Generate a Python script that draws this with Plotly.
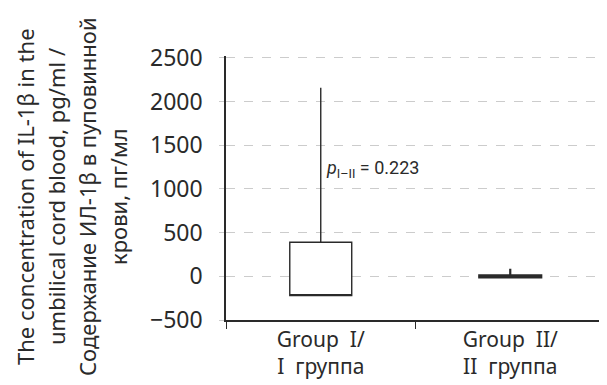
import plotly.graph_objects as go

categories = ["Group  I/<br>I  группа", "Group  II/<br>II  группа"]
q1 = [-221, -12]
median = [-221, 0]
q3 = [389, 12]
lower = [-221, -12]
upper = [2158, 85]
line_widths = [1.4, 2.2]
p_text = "<i>p</i><sub>I–II</sub> = 0.223"
p_y = 1222
y_ticks = [-500, 0, 500, 1000, 1500, 2000, 2500]
y_tick_text = ["−500", "0", "500", "1000", "1500", "2000", "2500"]
y_title_lines = [
    "The concentration of IL-1β in the",
    "umbilical cord blood, pg/ml /",
    "Содержание ИЛ-1β в пуповинной",
    "крови, пг/мл",
]

# page body has an 8px default margin; figure is sized/offset to compensate
fig = go.Figure()
for i, c in enumerate(categories):
    fig.add_trace(go.Box(
        x=[c], q1=[q1[i]], median=[median[i]], q3=[q3[i]],
        lowerfence=[lower[i]], upperfence=[upper[i]],
        fillcolor="white", line=dict(color="#2a2a2a", width=line_widths[i]),
        width=0.327, whiskerwidth=0, showlegend=False, hoverinfo="skip",
    ))

fig.add_annotation(
    x=categories[0], y=p_y, xref="x", yref="y", text=p_text, showarrow=False,
    xanchor="left", yanchor="middle", xshift=3,
    font=dict(family="Liberation Sans Narrow, Roboto, sans-serif", size=18, color="#2a2a2a"),
)

for k, line in enumerate(y_title_lines):
    fig.add_annotation(
        x=0.0, y=0.5, xref="paper", yref="paper", xanchor="center", yanchor="middle",
        xshift=-201 + 31 * k, yshift=-9, textangle=-90, showarrow=False,
        text=line,
        font=dict(family="Noto Sans, sans-serif", size=22, color="#2a2a2a"),
    )

fig.update_layout(
    width=599, height=377,
    margin=dict(l=218, r=2, t=48, b=65, autoexpand=False),
    plot_bgcolor="white", paper_bgcolor="white",
    font=dict(family="Noto Sans, sans-serif", size=21, color="#2a2a2a"),
)
fig.update_xaxes(
    type="category", range=[-0.5, 1.5], showline=True, linecolor="#2a2a2a", linewidth=1.5,
    ticks="outside", tickson="boundaries", ticklen=7, tickcolor="#2a2a2a",
    showgrid=False, tickfont=dict(size=21), automargin=False,
)
fig.update_yaxes(
    range=[-500, 2520], tickvals=y_ticks, ticktext=y_tick_text,
    showline=True, linecolor="#2a2a2a", linewidth=1.5,
    showgrid=True, gridcolor="#cccccc", griddash="dash", gridwidth=1,
    zeroline=False, ticks="outside", ticklen=5, tickcolor="#cccccc",
    ticklabelstandoff=12, tickfont=dict(size=23), automargin=False,
)

fig.write_html("out.html")
